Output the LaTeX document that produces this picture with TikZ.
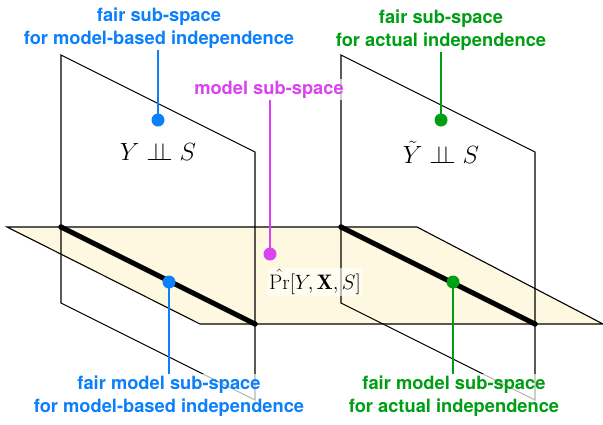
\documentclass[tikz,border=0pt]{standalone}
\usepackage{fontspec}
\setsansfont{TeX Gyre Heros}
\definecolor{fblue}{RGB}{12,128,250}
\definecolor{fgreen}{RGB}{0,158,20}
\definecolor{fmag}{RGB}{218,68,240}
\definecolor{fbeige}{RGB}{255,248,224}
\begin{document}
\begin{tikzpicture}[x=1pt,y=-1pt,
  planeline/.style={draw=black, line width=1.1pt, line join=miter},
  cutline/.style={draw=black, line width=5pt},
  enddot/.style={circle, fill=black, inner sep=0pt, minimum size=5.5pt},
  bigdot/.style={circle, fill=#1, inner sep=0pt, minimum size=13pt},
  lbl/.style={font=\sffamily\bfseries\fontsize{18.3}{23}\selectfont, text=#1, align=center,
              fill=white, fill opacity=0.7, text opacity=1, inner sep=1.5pt},
  lead/.style={draw=#1, line width=2.6pt},
  mathlbl/.style={font=\fontsize{25}{30}\selectfont, inner sep=1pt}
]
\useasboundingbox (0,0) rectangle (603,424);
% horizontal (model) plane
\coordinate (h1) at (7,227);
\coordinate (h2) at (417,227);
\coordinate (h3) at (603,324);
\coordinate (h4) at (200,324);
\fill[fbeige] (h1) -- (h2) -- (h3) -- (h4) -- cycle;
\draw[planeline] (h1) -- (h2) -- (h3) -- (h4) -- cycle;
% left vertical plane
\coordinate (a1) at (61,55);
\coordinate (a2) at (255,152);
\coordinate (a3) at (255,400);
\coordinate (a4) at (61,303);
\draw[planeline] (a1) -- (a2) -- (a3) -- (a4) -- cycle;
% right vertical plane
\coordinate (b1) at (341,55);
\coordinate (b2) at (535,152);
\coordinate (b3) at (535,400);
\coordinate (b4) at (341,303);
\draw[planeline] (b1) -- (b2) -- (b3) -- (b4) -- cycle;
% intersection lines
\node[enddot] (ac1) at (61,227) {};
\node[enddot] (ac2) at (255,324) {};
\node[enddot] (bc1) at (341,227) {};
\node[enddot] (bc2) at (535,324) {};
\draw[cutline] (ac1.center) -- (ac2.center);
\draw[cutline] (bc1.center) -- (bc2.center);
% math labels
\node[mathlbl] (eqL) at (158,152) {$Y\mathrel{\perp\!\!\!\perp}S$};
\node[mathlbl] (eqR) at (441,152) {$\tilde{Y}\mathrel{\perp\!\!\!\perp}S$};
\node[font=\fontsize{21}{25}\selectfont, fill=white, fill opacity=0.6, text opacity=1, inner sep=1.5pt] (pr) at (315,282) {$\hat{\Pr}[Y,\mathbf{X},S]$};
% dots
\node[bigdot=fblue] (dtL) at (158,120) {};
\node[bigdot=fgreen] (dtR) at (441,120) {};
\node[bigdot=fmag] (dtM) at (270,254) {};
\node[bigdot=fblue] (dbL) at (169,282) {};
\node[bigdot=fgreen] (dbR) at (453,282) {};
% labels
\node[lbl=fblue, anchor=south] (tlL) at (159,50) {fair sub-space\\for model-based independence};
\node[lbl=fgreen, anchor=south] (tlR) at (441,52) {fair sub-space\\for actual independence};
\node[lbl=fmag, anchor=south] (tlM) at (269,100) {model sub-space};
\node[lbl=fblue, anchor=north] (blL) at (169,374) {fair model sub-space\\for model-based independence};
\node[lbl=fgreen, anchor=north] (blR) at (454,374) {fair model sub-space\\for actual independence};
% leads
\draw[lead=fblue] (tlL.south -| dtL) -- (dtL.center);
\draw[lead=fgreen] (tlR.south -| dtR) -- (dtR.center);
\draw[lead=fmag] (tlM.south -| dtM) -- (dtM.center);
\draw[lead=fblue] (blL.north -| dbL) -- (dbL.center);
\draw[lead=fgreen] (blR.north -| dbR) -- (dbR.center);
\end{tikzpicture}
\end{document}
